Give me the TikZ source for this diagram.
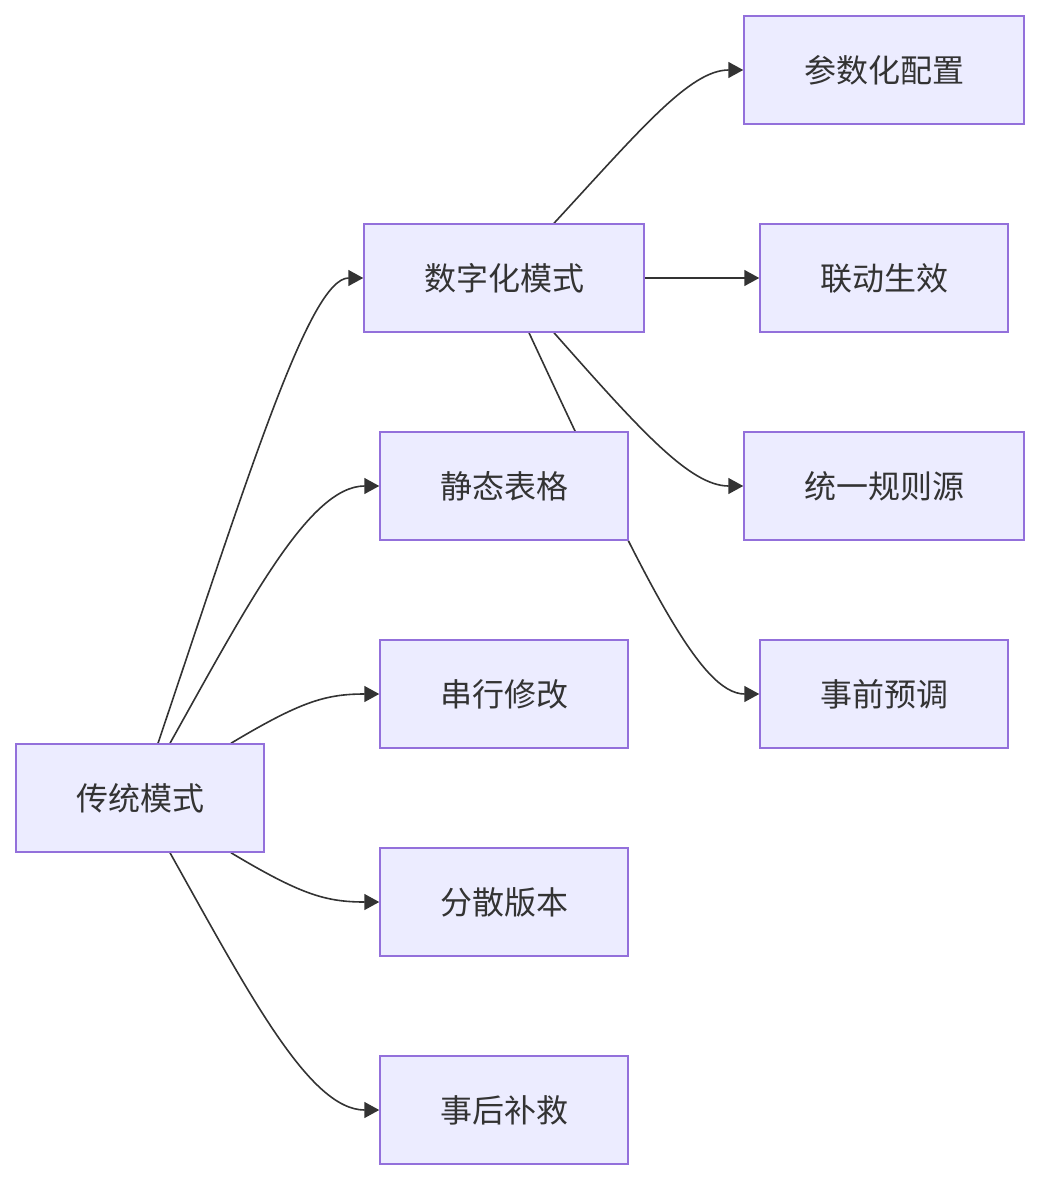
\documentclass[tikz,border=0pt]{standalone}
\usepackage{fontspec}
\newfontfamily\cjk{Noto Sans CJK SC}
\usetikzlibrary{arrows.meta,backgrounds}
\definecolor{boxfill}{HTML}{ECECFF}
\definecolor{boxline}{HTML}{9370DB}
\definecolor{ink}{HTML}{333333}
\tikzset{
  box/.style={draw=boxline, fill=boxfill, line width=1.5pt, minimum height=108pt,
    text=ink, font=\cjk\fontsize{32}{38}\selectfont, inner sep=0pt},
  wide/.style={box, minimum width=280pt},
  narrow/.style={box, minimum width=248pt},
  link/.style={draw=ink, line width=1.6pt, -{Triangle[length=15pt,width=16pt]}}
}

\begin{document}
\begin{tikzpicture}[x=1pt, y=-1pt]
\useasboundingbox (0,0) rectangle (1040,1180);

% left column
\node[narrow] (trad) at (140,798) {传统模式};

% middle column
\node[wide]   (digi)   at (504,278)  {数字化模式};
\node[narrow] (table)  at (504,486)  {静态表格};
\node[narrow] (serial) at (504,694)  {串行修改};
\node[narrow] (scatter) at (504,902) {分散版本};
\node[narrow] (remedy) at (504,1110) {事后补救};

% right column
\node[wide]   (param)  at (884,70)  {参数化配置};
\node[narrow] (linked) at (884,278) {联动生效};
\node[wide]   (rules)  at (884,486) {统一规则源};
\node[narrow] (adjust) at (884,694) {事前预调};

\begin{pgfonlayer}{background}
\draw[link] ([xshift=18pt]trad.north) .. controls (250,470) and (310,278) .. (digi.west);
\draw[link] ([xshift=30pt]trad.north) .. controls (250,600) and (310,486) .. (table.west);
\draw[link] ([xshift=91pt]trad.north) .. controls (300,702) and (325,694) .. (serial.west);
\draw[link] ([xshift=91pt]trad.south) .. controls (300,894) and (325,902) .. (scatter.west);
\draw[link] ([xshift=30pt]trad.south) .. controls (250,996) and (310,1110) .. (remedy.west);

\draw[link] ([xshift=50pt]digi.north) .. controls (640,130) and (690,70) .. (param.west);
\draw[link] (digi.east) -- (linked.west);
\draw[link] ([xshift=50pt]digi.south) .. controls (640,430) and (690,486) .. (rules.west);
\draw[link] ([xshift=25pt]digi.south) .. controls (645,582) and (700,694) .. (adjust.west);
\end{pgfonlayer}
\end{tikzpicture}
\end{document}
